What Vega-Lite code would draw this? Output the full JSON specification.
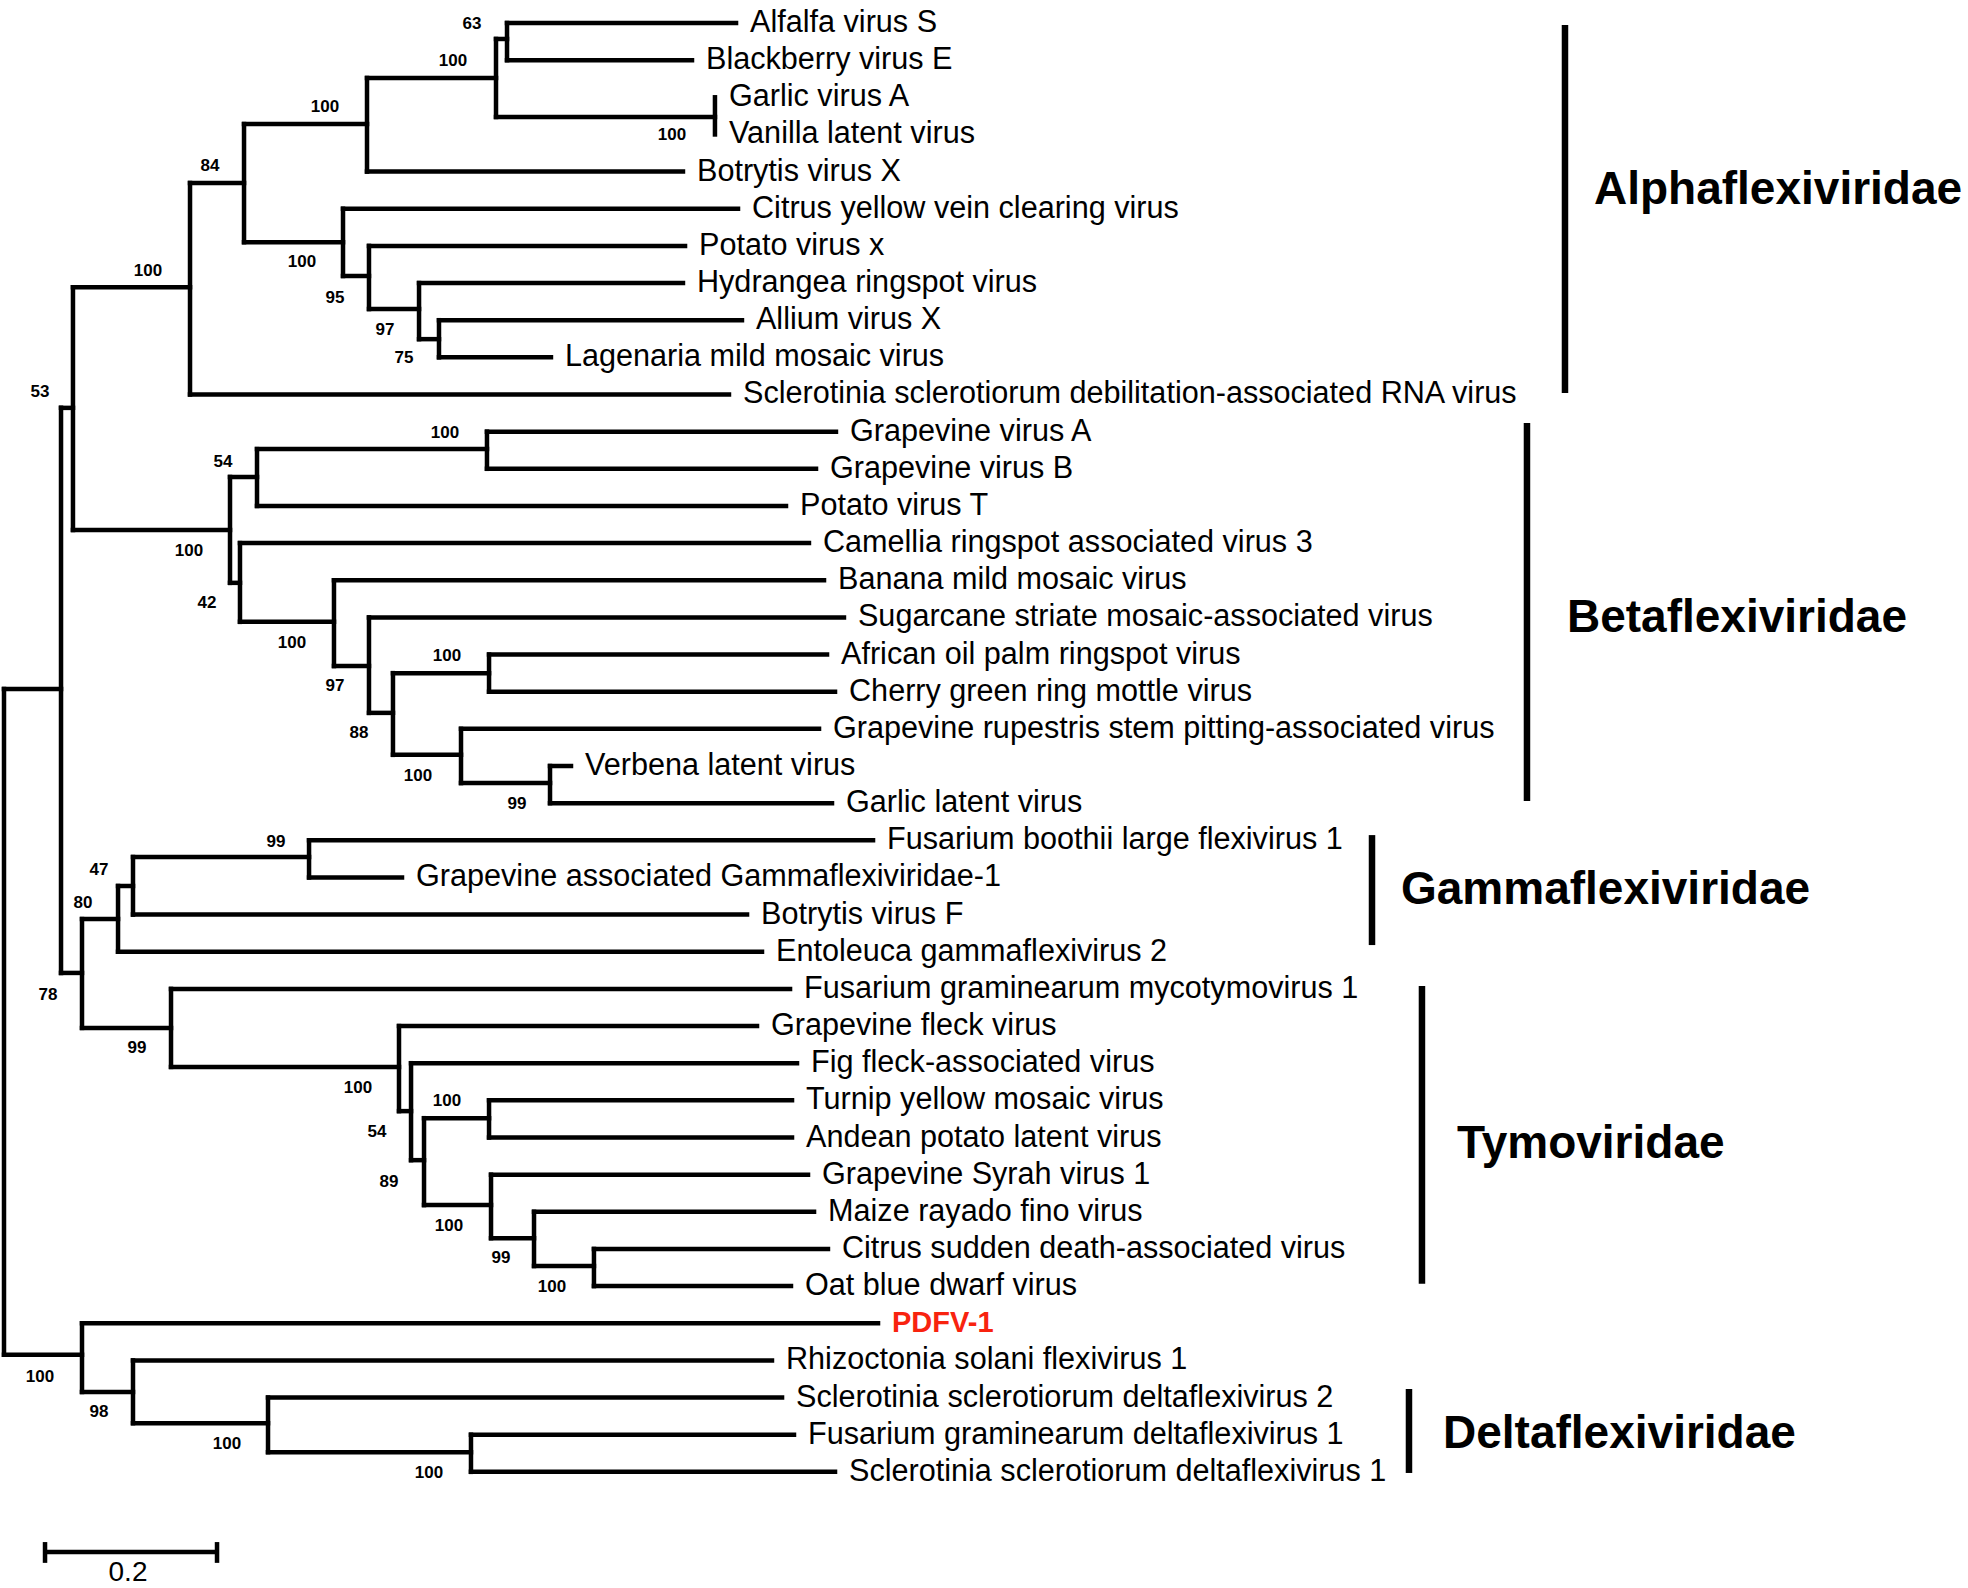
{
  "$schema": "https://vega.github.io/schema/vega-lite/v6.json",
  "width": 1968,
  "height": 1588,
  "autosize": {"type": "none"},
  "padding": 0,
  "background": "white",
  "config": {"view": {"stroke": null}},
  "datasets": {
    "nodes": [
      {"id": "root", "x": 0, "px": null, "y": 26.9, "y1": 17.93, "y2": 35.85, "bs": null, "lx": null, "ly": null},
      {"id": "A", "x": 0.0663, "px": 0, "y": 17.93, "y1": 10.36, "y2": 25.57, "bs": null, "lx": null, "ly": null},
      {"id": "AB", "x": 0.0802, "px": 0.0663, "y": 10.36, "y1": 7.11, "y2": 13.65, "bs": "53", "lx": 0.0419, "ly": 9.93},
      {"id": "Alpha", "x": 0.2163, "px": 0.0802, "y": 7.11, "y1": 4.31, "y2": 10, "bs": "100", "lx": 0.1674, "ly": 6.68},
      {"id": "N84", "x": 0.2791, "px": 0.2163, "y": 4.31, "y1": 2.72, "y2": 5.9, "bs": "84", "lx": 0.2395, "ly": 3.85},
      {"id": "N100a", "x": 0.4221, "px": 0.2791, "y": 2.72, "y1": 1.48, "y2": 4, "bs": "100", "lx": 0.3733, "ly": 2.26},
      {"id": "N100b", "x": 0.5721, "px": 0.4221, "y": 1.48, "y1": 0.43, "y2": 2.53, "bs": "100", "lx": 0.5221, "ly": 1.02},
      {"id": "N63", "x": 0.5849, "px": 0.5721, "y": 0.43, "y1": 0, "y2": 1, "bs": "63", "lx": 0.5442, "ly": 0.03},
      {"id": "GarVan", "x": 0.8267, "px": 0.5721, "y": 2.53, "y1": 2, "y2": 3, "bs": "100", "lx": 0.7767, "ly": 3.01},
      {"id": "N100c", "x": 0.3942, "px": 0.2791, "y": 5.9, "y1": 5, "y2": 6.81, "bs": "100", "lx": 0.3465, "ly": 6.43},
      {"id": "N95", "x": 0.4244, "px": 0.3942, "y": 6.81, "y1": 6, "y2": 7.7, "bs": "95", "lx": 0.3849, "ly": 7.4},
      {"id": "N97", "x": 0.4826, "px": 0.4244, "y": 7.7, "y1": 7, "y2": 8.51, "bs": "97", "lx": 0.443, "ly": 8.26},
      {"id": "N75", "x": 0.5058, "px": 0.4826, "y": 8.51, "y1": 8, "y2": 9, "bs": "75", "lx": 0.4651, "ly": 9.02},
      {"id": "Beta", "x": 0.2628, "px": 0.0802, "y": 13.65, "y1": 12.22, "y2": 15.07, "bs": "100", "lx": 0.2151, "ly": 14.21},
      {"id": "N54", "x": 0.2942, "px": 0.2628, "y": 12.22, "y1": 11.47, "y2": 13, "bs": "54", "lx": 0.2547, "ly": 11.82},
      {"id": "GVAB", "x": 0.5616, "px": 0.2942, "y": 11.47, "y1": 11, "y2": 12, "bs": "100", "lx": 0.5128, "ly": 11.04},
      {"id": "N42", "x": 0.2744, "px": 0.2628, "y": 15.07, "y1": 14, "y2": 16.12, "bs": "42", "lx": 0.236, "ly": 15.61},
      {"id": "N100d", "x": 0.3837, "px": 0.2744, "y": 16.12, "y1": 15, "y2": 17.31, "bs": "100", "lx": 0.3349, "ly": 16.69},
      {"id": "N97b", "x": 0.4244, "px": 0.3837, "y": 17.31, "y1": 16, "y2": 18.57, "bs": "97", "lx": 0.3849, "ly": 17.85},
      {"id": "N88", "x": 0.4523, "px": 0.4244, "y": 18.57, "y1": 17.5, "y2": 19.7, "bs": "88", "lx": 0.4128, "ly": 19.11},
      {"id": "N100e", "x": 0.564, "px": 0.4523, "y": 17.5, "y1": 17, "y2": 18, "bs": "100", "lx": 0.5151, "ly": 17.04},
      {"id": "N100f", "x": 0.5314, "px": 0.4523, "y": 19.7, "y1": 19, "y2": 20.46, "bs": "100", "lx": 0.4814, "ly": 20.27},
      {"id": "N99a", "x": 0.6349, "px": 0.5314, "y": 20.46, "y1": 20, "y2": 21, "bs": "99", "lx": 0.5965, "ly": 21.02},
      {"id": "N78", "x": 0.0907, "px": 0.0663, "y": 25.57, "y1": 24.12, "y2": 27.05, "bs": "78", "lx": 0.0512, "ly": 26.16},
      {"id": "N80", "x": 0.1326, "px": 0.0907, "y": 24.12, "y1": 23.23, "y2": 25, "bs": "80", "lx": 0.0919, "ly": 23.69},
      {"id": "N47", "x": 0.15, "px": 0.1326, "y": 23.23, "y1": 22.45, "y2": 24, "bs": "47", "lx": 0.1105, "ly": 22.8},
      {"id": "N99b", "x": 0.3547, "px": 0.15, "y": 22.45, "y1": 22, "y2": 23, "bs": "99", "lx": 0.3163, "ly": 22.05},
      {"id": "N99c", "x": 0.1942, "px": 0.0907, "y": 27.05, "y1": 26, "y2": 28.1, "bs": "99", "lx": 0.1547, "ly": 27.59},
      {"id": "N100g", "x": 0.4593, "px": 0.1942, "y": 28.1, "y1": 27, "y2": 29.29, "bs": "100", "lx": 0.4116, "ly": 28.67},
      {"id": "N54b", "x": 0.4733, "px": 0.4593, "y": 29.29, "y1": 28, "y2": 30.61, "bs": "54", "lx": 0.4337, "ly": 29.85},
      {"id": "N89", "x": 0.4884, "px": 0.4733, "y": 30.61, "y1": 29.48, "y2": 31.82, "bs": "89", "lx": 0.4477, "ly": 31.2},
      {"id": "N100h", "x": 0.564, "px": 0.4884, "y": 29.48, "y1": 29, "y2": 30, "bs": "100", "lx": 0.5151, "ly": 29.02},
      {"id": "N100i", "x": 0.5663, "px": 0.4884, "y": 31.82, "y1": 31, "y2": 32.71, "bs": "100", "lx": 0.5174, "ly": 32.38},
      {"id": "N99d", "x": 0.6163, "px": 0.5663, "y": 32.71, "y1": 32, "y2": 33.46, "bs": "99", "lx": 0.5779, "ly": 33.24},
      {"id": "N100j", "x": 0.686, "px": 0.6163, "y": 33.46, "y1": 33, "y2": 34, "bs": "100", "lx": 0.6372, "ly": 34.02},
      {"id": "Delta", "x": 0.0907, "px": 0, "y": 35.85, "y1": 35, "y2": 36.85, "bs": "100", "lx": 0.0419, "ly": 36.45},
      {"id": "N98", "x": 0.15, "px": 0.0907, "y": 36.85, "y1": 36, "y2": 37.69, "bs": "98", "lx": 0.1105, "ly": 37.39},
      {"id": "N100k", "x": 0.307, "px": 0.15, "y": 37.69, "y1": 37, "y2": 38.47, "bs": "100", "lx": 0.2593, "ly": 38.25},
      {"id": "N100l", "x": 0.543, "px": 0.307, "y": 38.47, "y1": 38, "y2": 39, "bs": "100", "lx": 0.4942, "ly": 39.03}
    ],
    "tips": [
      {"name": "Alfalfa virus S", "row": 0, "tip": 0.8512, "parent": 0.5849, "study": "reference"},
      {"name": "Blackberry virus E", "row": 1, "tip": 0.8, "parent": 0.5849, "study": "reference"},
      {"name": "Garlic virus A", "row": 2, "tip": 0.8267, "parent": 0.8267, "study": "reference"},
      {"name": "Vanilla latent virus", "row": 3, "tip": 0.8267, "parent": 0.8267, "study": "reference"},
      {"name": "Botrytis virus X", "row": 4, "tip": 0.7895, "parent": 0.4221, "study": "reference"},
      {"name": "Citrus yellow vein clearing virus", "row": 5, "tip": 0.8535, "parent": 0.3942, "study": "reference"},
      {"name": "Potato virus x", "row": 6, "tip": 0.7919, "parent": 0.4244, "study": "reference"},
      {"name": "Hydrangea ringspot virus", "row": 7, "tip": 0.7895, "parent": 0.4826, "study": "reference"},
      {"name": "Allium virus X", "row": 8, "tip": 0.8581, "parent": 0.5058, "study": "reference"},
      {"name": "Lagenaria mild mosaic virus", "row": 9, "tip": 0.636, "parent": 0.5058, "study": "reference"},
      {"name": "Sclerotinia sclerotiorum debilitation-associated RNA virus", "row": 10, "tip": 0.843, "parent": 0.2163, "study": "reference"},
      {"name": "Grapevine virus A", "row": 11, "tip": 0.9674, "parent": 0.5616, "study": "reference"},
      {"name": "Grapevine virus B", "row": 12, "tip": 0.9442, "parent": 0.5616, "study": "reference"},
      {"name": "Potato virus T", "row": 13, "tip": 0.9093, "parent": 0.2942, "study": "reference"},
      {"name": "Camellia ringspot associated virus 3", "row": 14, "tip": 0.936, "parent": 0.2744, "study": "reference"},
      {"name": "Banana mild mosaic virus", "row": 15, "tip": 0.9535, "parent": 0.3837, "study": "reference"},
      {"name": "Sugarcane striate mosaic-associated virus", "row": 16, "tip": 0.9767, "parent": 0.4244, "study": "reference"},
      {"name": "African oil palm ringspot virus", "row": 17, "tip": 0.957, "parent": 0.564, "study": "reference"},
      {"name": "Cherry green ring mottle virus", "row": 18, "tip": 0.9663, "parent": 0.564, "study": "reference"},
      {"name": "Grapevine rupestris stem pitting-associated virus", "row": 19, "tip": 0.9477, "parent": 0.5314, "study": "reference"},
      {"name": "Verbena latent virus", "row": 20, "tip": 0.6593, "parent": 0.6349, "study": "reference"},
      {"name": "Garlic latent virus", "row": 21, "tip": 0.9628, "parent": 0.6349, "study": "reference"},
      {"name": "Fusarium boothii large flexivirus 1", "row": 22, "tip": 1.0105, "parent": 0.3547, "study": "reference"},
      {"name": "Grapevine associated Gammaflexiviridae-1", "row": 23, "tip": 0.4628, "parent": 0.3547, "study": "reference"},
      {"name": "Botrytis virus F", "row": 24, "tip": 0.864, "parent": 0.15, "study": "reference"},
      {"name": "Entoleuca gammaflexivirus 2", "row": 25, "tip": 0.8814, "parent": 0.1326, "study": "reference"},
      {"name": "Fusarium graminearum mycotymovirus 1", "row": 26, "tip": 0.914, "parent": 0.1942, "study": "reference"},
      {"name": "Grapevine fleck virus", "row": 27, "tip": 0.8756, "parent": 0.4593, "study": "reference"},
      {"name": "Fig fleck-associated virus", "row": 28, "tip": 0.9221, "parent": 0.4733, "study": "reference"},
      {"name": "Turnip yellow mosaic virus", "row": 29, "tip": 0.9163, "parent": 0.564, "study": "reference"},
      {"name": "Andean potato latent virus", "row": 30, "tip": 0.9163, "parent": 0.564, "study": "reference"},
      {"name": "Grapevine Syrah virus 1", "row": 31, "tip": 0.9349, "parent": 0.5663, "study": "reference"},
      {"name": "Maize rayado fino virus", "row": 32, "tip": 0.9419, "parent": 0.6163, "study": "reference"},
      {"name": "Citrus sudden death-associated virus", "row": 33, "tip": 0.9581, "parent": 0.686, "study": "reference"},
      {"name": "Oat blue dwarf virus", "row": 34, "tip": 0.9151, "parent": 0.686, "study": "reference"},
      {"name": "PDFV-1", "row": 35, "tip": 1.0163, "parent": 0.0907, "study": "this study"},
      {"name": "Rhizoctonia solani flexivirus 1", "row": 36, "tip": 0.893, "parent": 0.15, "study": "reference"},
      {"name": "Sclerotinia sclerotiorum deltaflexivirus 2", "row": 37, "tip": 0.9047, "parent": 0.307, "study": "reference"},
      {"name": "Fusarium graminearum deltaflexivirus 1", "row": 38, "tip": 0.9186, "parent": 0.543, "study": "reference"},
      {"name": "Sclerotinia sclerotiorum deltaflexivirus 1", "row": 39, "tip": 0.9663, "parent": 0.543, "study": "reference"}
    ],
    "clades": [
      {"family": "Alphaflexiviridae", "x": 1.8151, "y1": 0.054, "y2": 9.96, "tx": 1.8488, "ty": 4.5},
      {"family": "Betaflexiviridae", "x": 1.7709, "y1": 10.77, "y2": 20.94, "tx": 1.8174, "ty": 16.02},
      {"family": "Gammaflexiviridae", "x": 1.5907, "y1": 21.86, "y2": 24.82, "tx": 1.6244, "ty": 23.34},
      {"family": "Tymoviridae", "x": 1.6488, "y1": 25.92, "y2": 33.94, "tx": 1.6895, "ty": 30.17},
      {"family": "Deltaflexiviridae", "x": 1.6337, "y1": 36.77, "y2": 39.03, "tx": 1.6733, "ty": 37.98}
    ],
    "scalebar": [
      {"part": "bar", "x": 0.0477, "x2": 0.2477, "y": 41.16, "y2": 41.16},
      {"part": "left tick", "x": 0.0477, "x2": 0.0477, "y": 40.89, "y2": 41.45},
      {"part": "right tick", "x": 0.2477, "x2": 0.2477, "y": 40.89, "y2": 41.45}
    ],
    "scalelabel": [
      {"label": "0.2", "x": 0.1442, "y": 41.72}
    ]
  },
  "layer": [
    {
      "data": {"name": "nodes"},
      "transform": [{"filter": "datum.id != 'root'"}],
      "mark": {"type": "rule", "strokeWidth": 4.5, "strokeCap": "square", "color": "black"},
      "encoding": {
        "x": {"field": "px", "type": "quantitative", "scale": {"domain": [-0.00465, 2.28372], "nice": false, "zero": false}, "axis": null},
        "x2": {"field": "x"},
        "y": {"field": "y", "type": "quantitative", "scale": {"domain": [-0.6191, 42.1265], "nice": false, "zero": false, "reverse": true}, "axis": null}
      }
    },
    {
      "data": {"name": "nodes"},
      "mark": {"type": "rule", "strokeWidth": 4.5, "strokeCap": "square", "color": "black"},
      "encoding": {
        "x": {"field": "x", "type": "quantitative", "scale": {"domain": [-0.00465, 2.28372], "nice": false, "zero": false}, "axis": null},
        "y": {"field": "y1", "type": "quantitative", "scale": {"domain": [-0.6191, 42.1265], "nice": false, "zero": false, "reverse": true}, "axis": null},
        "y2": {"field": "y2"}
      }
    },
    {
      "data": {"name": "tips"},
      "transform": [{"filter": "datum.tip > datum.parent"}],
      "mark": {"type": "rule", "strokeWidth": 4.5, "strokeCap": "square", "color": "black"},
      "encoding": {
        "x": {"field": "parent", "type": "quantitative", "scale": {"domain": [-0.00465, 2.28372], "nice": false, "zero": false}, "axis": null},
        "x2": {"field": "tip"},
        "y": {"field": "row", "type": "quantitative", "scale": {"domain": [-0.6191, 42.1265], "nice": false, "zero": false, "reverse": true}, "axis": null}
      }
    },
    {
      "data": {"name": "tips"},
      "transform": [{"filter": "datum.study == 'reference'"}],
      "mark": {"type": "text", "align": "left", "baseline": "middle", "dx": 14, "fontSize": 30.6, "font": "Liberation Sans", "color": "black"},
      "encoding": {
        "x": {"field": "tip", "type": "quantitative", "scale": {"domain": [-0.00465, 2.28372], "nice": false, "zero": false}, "axis": null},
        "y": {"field": "row", "type": "quantitative", "scale": {"domain": [-0.6191, 42.1265], "nice": false, "zero": false, "reverse": true}, "axis": null},
        "text": {"field": "name", "type": "nominal"}
      }
    },
    {
      "data": {"name": "tips"},
      "transform": [{"filter": "datum.study == 'this study'"}],
      "mark": {"type": "text", "align": "left", "baseline": "middle", "dx": 14, "fontSize": 29, "fontWeight": "bold", "font": "Liberation Sans", "color": "#f8230f"},
      "encoding": {
        "x": {"field": "tip", "type": "quantitative", "scale": {"domain": [-0.00465, 2.28372], "nice": false, "zero": false}, "axis": null},
        "y": {"field": "row", "type": "quantitative", "scale": {"domain": [-0.6191, 42.1265], "nice": false, "zero": false, "reverse": true}, "axis": null},
        "text": {"field": "name", "type": "nominal"}
      }
    },
    {
      "data": {"name": "nodes"},
      "transform": [{"filter": "datum.bs != null"}],
      "mark": {"type": "text", "align": "center", "baseline": "middle", "fontSize": 17, "fontWeight": "bold", "font": "Liberation Sans", "color": "black"},
      "encoding": {
        "x": {"field": "lx", "type": "quantitative", "scale": {"domain": [-0.00465, 2.28372], "nice": false, "zero": false}, "axis": null},
        "y": {"field": "ly", "type": "quantitative", "scale": {"domain": [-0.6191, 42.1265], "nice": false, "zero": false, "reverse": true}, "axis": null},
        "text": {"field": "bs", "type": "nominal"}
      }
    },
    {
      "data": {"name": "clades"},
      "mark": {"type": "rule", "strokeWidth": 6.5, "strokeCap": "butt", "color": "black"},
      "encoding": {
        "x": {"field": "x", "type": "quantitative", "scale": {"domain": [-0.00465, 2.28372], "nice": false, "zero": false}, "axis": null},
        "y": {"field": "y1", "type": "quantitative", "scale": {"domain": [-0.6191, 42.1265], "nice": false, "zero": false, "reverse": true}, "axis": null},
        "y2": {"field": "y2"}
      }
    },
    {
      "data": {"name": "clades"},
      "mark": {"type": "text", "align": "left", "baseline": "middle", "fontSize": 46, "fontWeight": "bold", "font": "Liberation Sans", "color": "black"},
      "encoding": {
        "x": {"field": "tx", "type": "quantitative", "scale": {"domain": [-0.00465, 2.28372], "nice": false, "zero": false}, "axis": null},
        "y": {"field": "ty", "type": "quantitative", "scale": {"domain": [-0.6191, 42.1265], "nice": false, "zero": false, "reverse": true}, "axis": null},
        "text": {"field": "family", "type": "nominal"}
      }
    },
    {
      "data": {"name": "scalebar"},
      "mark": {"type": "rule", "strokeWidth": 4.5, "strokeCap": "butt", "color": "black"},
      "encoding": {
        "x": {"field": "x", "type": "quantitative", "scale": {"domain": [-0.00465, 2.28372], "nice": false, "zero": false}, "axis": null},
        "x2": {"field": "x2"},
        "y": {"field": "y", "type": "quantitative", "scale": {"domain": [-0.6191, 42.1265], "nice": false, "zero": false, "reverse": true}, "axis": null},
        "y2": {"field": "y2"}
      }
    },
    {
      "data": {"name": "scalelabel"},
      "mark": {"type": "text", "align": "center", "baseline": "middle", "fontSize": 28, "font": "Liberation Sans", "color": "black"},
      "encoding": {
        "x": {"field": "x", "type": "quantitative", "scale": {"domain": [-0.00465, 2.28372], "nice": false, "zero": false}, "axis": null},
        "y": {"field": "y", "type": "quantitative", "scale": {"domain": [-0.6191, 42.1265], "nice": false, "zero": false, "reverse": true}, "axis": null},
        "text": {"field": "label", "type": "nominal"}
      }
    }
  ]
}
